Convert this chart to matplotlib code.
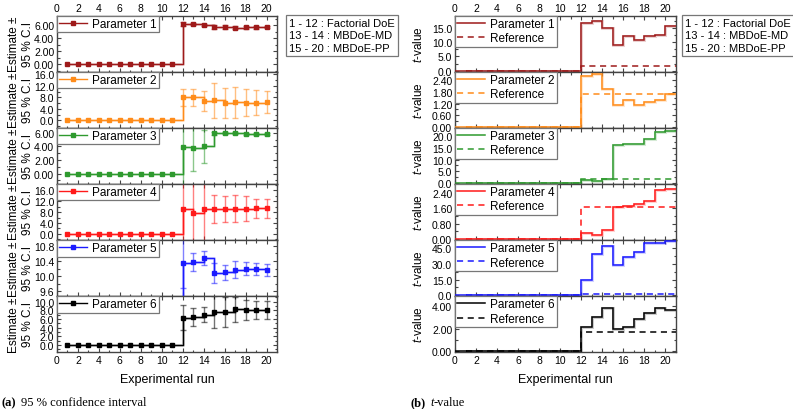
import numpy as np
import matplotlib
matplotlib.use('Agg')
import matplotlib.pyplot as plt
from matplotlib.ticker import MultipleLocator, FormatStrFormatter, AutoMinorLocator
from matplotlib.lines import Line2D

plt.rcParams['font.family'] = ['Liberation Sans', 'DejaVu Sans']
plt.rcParams['mathtext.fontset'] = 'custom'
plt.rcParams['mathtext.it'] = 'Liberation Sans:italic'
plt.rcParams['mathtext.rm'] = 'Liberation Sans'

# ---------------- data ----------------
runs = [1, 2, 3, 4, 5, 6, 7, 8, 9, 10, 11, 12, 13, 14, 15, 16, 17, 18, 19, 20]
param_names = ["Parameter 1", "Parameter 2", "Parameter 3",
               "Parameter 4", "Parameter 5", "Parameter 6"]
colors = ["#9E1A1A", "#FF8C1A", "#2E9A2E", "#FF1A1A", "#1A1AFF", "#000000"]

# estimates (left panel)
est_p1 = [0, 0, 0, 0, 0, 0, 0, 0, 0, 0, 0, 6.2, 6.2, 6.05, 5.8, 5.75, 5.65, 5.7, 5.7, 5.75]
est_p2 = [0, 0, 0, 0, 0, 0, 0, 0, 0, 0, 0, 8.0, 8.1, 6.9, 7.1, 6.2, 6.3, 6.2, 6.2, 6.5]
est_p3 = [0, 0, 0, 0, 0, 0, 0, 0, 0, 0, 0, 3.9, 3.8, 4.0, 5.9, 5.9, 5.9, 5.85, 5.85, 5.85]
est_p4 = [0, 0, 0, 0, 0, 0, 0, 0, 0, 0, 0, 9.0, 7.6, 9.2, 9.1, 9.1, 9.3, 9.3, 9.4, 9.4]
est_p5 = [0, 0, 0, 0, 0, 0, 0, 0, 0, 0, 0, 10.35, 10.37, 10.48, 10.08, 10.1, 10.17, 10.2, 10.2, 10.17]
est_p6 = [0, 0, 0, 0, 0, 0, 0, 0, 0, 0, 0, 6.3, 6.5, 7.0, 7.6, 7.6, 8.2, 8.1, 8.0, 8.0]

# 95 % confidence half-widths
ci_p1 = [0, 0, 0, 0, 0, 0, 0, 0, 0, 0, 0, 0.25, 0.2, 0.2, 0.3, 0.25, 0.25, 0.25, 0.25, 0.2]
ci_p2 = [0, 0, 0, 0, 0, 0, 0, 0, 0, 0, 0, 3.0, 2.9, 3.5, 6.1, 5.2, 5.5, 4.7, 4.4, 3.8]
ci_p3 = [0, 0, 0, 0, 0, 0, 0, 0, 0, 0, 0, 6.0, 3.4, 2.4, 0.2, 0.15, 0.15, 0.15, 0.15, 0.15]
ci_p4 = [0, 0, 0, 0, 0, 0, 0, 0, 0, 0, 0, 20.0, 20.0, 20.0, 5.3, 4.9, 4.8, 4.5, 3.5, 3.4]
ci_p5 = [0, 0, 0, 0, 0, 0, 0, 0, 0, 0, 0, 0.65, 0.23, 0.18, 0.27, 0.2, 0.22, 0.17, 0.16, 0.16]
ci_p6 = [0, 0, 0, 0, 0, 0, 0, 0, 0, 0, 0, 2.85, 2.1, 1.8, 3.75, 3.45, 2.85, 2.3, 2.1, 2.1]

# t-values (right panel)
t_p1 = [0, 0, 0, 0, 0, 0, 0, 0, 0, 0, 0, 16.7, 17.3, 15.0, 9.0, 12.1, 10.7, 12.1, 12.7, 15.8]
t_p2 = [0, 0, 0, 0, 0, 0, 0, 0, 0, 0, 0, 2.6, 2.72, 1.94, 1.12, 1.39, 1.12, 1.26, 1.39, 1.72]
t_p3 = [0, 0, 0, 0, 0, 0, 0, 0, 0, 0, 0, 1.4, 1.0, 1.7, 16.3, 16.6, 16.6, 18.6, 21.7, 22.1]
t_p4 = [0, 0, 0, 0, 0, 0, 0, 0, 0, 0, 0, 0.29, 0.2, 0.46, 1.66, 1.74, 1.85, 2.0, 2.56, 2.62]
t_p5 = [0, 0, 0, 0, 0, 0, 0, 0, 0, 0, 0, 15.0, 39.0, 47.0, 29.0, 37.0, 41.0, 50.0, 50.0, 52.0]
t_p6 = [0, 0, 0, 0, 0, 0, 0, 0, 0, 0, 0, 2.14, 3.05, 3.8, 1.94, 2.14, 2.83, 3.37, 3.86, 3.65]

# reference t-values
t_ref = [0, 0, 0, 0, 0, 0, 0, 0, 0, 0, 0, 1.68, 1.68, 1.68, 1.68, 1.68, 1.68, 1.68, 1.68, 1.68]

run_legend = ["1 - 12 : Factorial DoE", "13 - 14 : MBDoE-MD", "15 - 20 : MBDoE-PP"]

estimates = [est_p1, est_p2, est_p3, est_p4, est_p5, est_p6]
cis = [ci_p1, ci_p2, ci_p3, ci_p4, ci_p5, ci_p6]
tvals = [t_p1, t_p2, t_p3, t_p4, t_p5, t_p6]

# ---------------- style ----------------
left_ylims = [(-1.1, 7.5), (-2.5, 17.0), (-1.5, 6.75), (-2.2, 18.4), (9.48, 10.96), (-1.6, 11.3)]
left_ystep = [2.0, 4.0, 2.0, 4.0, 0.4, 2.0]
left_yfmt = ['%.2f', '%.1f', '%.2f', '%.1f', '%.1f', '%.1f']
right_ylims = [(-0.3, 19.4), (-0.04, 2.85), (-0.3, 23.6), (-0.04, 2.88), (-0.6, 53.0), (-0.06, 4.9)]
right_ystep = [5.0, 0.6, 5.0, 0.8, 15.0, 2.0]
right_yfmt = ['%.1f', '%.2f', '%.1f', '%.2f', '%.1f', '%.2f']

W, H = 793, 410
fig = plt.figure(figsize=(W / 100, H / 100), dpi=100)

top_px, bot_px = 16.5, 353
ph = (bot_px - top_px) / 6
spine_col = '#444444'
tick_fs = 7.5
leg_fs = 8.5


def style_axes(ax, i, ylim, ystep, yfmt):
    ax.set_xlim(0, 21)
    ax.set_ylim(*ylim)
    ax.xaxis.set_major_locator(MultipleLocator(2))
    ax.xaxis.set_minor_locator(MultipleLocator(1))
    ax.yaxis.set_major_locator(MultipleLocator(ystep))
    ax.yaxis.set_minor_locator(AutoMinorLocator(2))
    ax.yaxis.set_major_formatter(FormatStrFormatter(yfmt))
    ax.tick_params(which='both', direction='in', top=True, right=True,
                   labelsize=tick_fs, color=spine_col, pad=2)
    ax.tick_params(which='major', length=3, width=0.8)
    ax.tick_params(which='minor', length=1.8, width=0.8)
    ax.tick_params(axis='x', labelbottom=(i == 5), labeltop=(i == 0))
    for s in ax.spines.values():
        s.set_color(spine_col)
        s.set_linewidth(1.0)


left_x0, left_w = 57, 220
right_x0, right_w = 455, 221

runs_arr = np.array(runs)
edges = np.append(runs_arr, runs_arr[-1] + 1)

for i in range(6):
    y0 = H - (top_px + (i + 1) * ph)
    # ---------- left ----------
    ax = fig.add_axes([left_x0 / W, y0 / H, left_w / W, ph / H])
    est = np.array(estimates[i])
    ci = np.array(cis[i])
    c = colors[i]
    m = ci > 0
    ax.errorbar(runs_arr[m], est[m], yerr=ci[m], fmt='none', ecolor=c,
                elinewidth=1.0, capsize=2.5, capthick=1.0, alpha=0.55, zorder=2)
    ax.plot(runs_arr, est, drawstyle='steps-post', color=c, lw=2.2, alpha=0.2, zorder=2)
    ln, = ax.plot(runs_arr, est, drawstyle='steps-post', color=c, lw=1.0,
                  marker='s', markersize=2.4, zorder=3, label=param_names[i])
    style_axes(ax, i, left_ylims[i], left_ystep[i], left_yfmt[i])
    leg = ax.legend(handles=[ln], loc='upper left', borderaxespad=0, fontsize=leg_fs,
                    fancybox=False, framealpha=1, edgecolor='#777777',
                    handlelength=2.3, handletextpad=0.5, borderpad=0.2)
    leg.get_frame().set_linewidth(0.9)
    ax.set_ylabel("Estimate \u00b1\n95 % C.I", fontsize=8.5, linespacing=1.25)
    ax.yaxis.set_label_coords(-0.105, 0.5)
    if i == 5:
        ax.set_xlabel("Experimental run", fontsize=9, labelpad=6)

    # ---------- right ----------
    axr = fig.add_axes([right_x0 / W, y0 / H, right_w / W, ph / H])
    tv = np.array(tvals[i])
    tr = np.array(t_ref)
    axr.stairs(tv, edges, baseline=None, color=c, lw=2.2, alpha=0.2, zorder=2)
    axr.stairs(tv, edges, baseline=None, color=c, lw=1.1, zorder=3)
    axr.stairs(tr, edges, baseline=None, color=c, lw=1.1, ls=(0, (4, 3)), zorder=3)
    axr.plot([0, 1], [0, 0], color=c, lw=1.1, zorder=3)
    style_axes(axr, i, right_ylims[i], right_ystep[i], right_yfmt[i])
    h1 = Line2D([], [], color=c, lw=1.1)
    h2 = Line2D([], [], color=c, lw=1.1, ls=(0, (4, 3)))
    legr = axr.legend(handles=[h1, h2], labels=[param_names[i], "Reference"],
                      loc='upper left', borderaxespad=0, fontsize=leg_fs,
                      fancybox=False, framealpha=1, edgecolor='#777777',
                      handlelength=2.3, handletextpad=0.5, borderpad=0.2,
                      labelspacing=0.2)
    legr.get_frame().set_linewidth(0.9)
    axr.set_ylabel(r"$\it{t}$-value", fontsize=8.5)
    axr.yaxis.set_label_coords(-0.135, 0.5)
    if i == 5:
        axr.set_xlabel("Experimental run", fontsize=9, labelpad=6)

box = dict(boxstyle='square,pad=0.3', fc='white', ec='#777777', lw=0.9)
fig.text(289 / W, 1 - 19 / H, "\n".join(run_legend), ha='left', va='top',
         fontsize=8, linespacing=1.3, bbox=box)
fig.text(685 / W, 1 - 19 / H, "\n".join(run_legend), ha='left', va='top',
         fontsize=8, linespacing=1.3, bbox=box)

cap_y = 1 - 403 / H
fig.text(2 / W, cap_y, "(a)", ha='left', va='center', fontsize=9,
         family='Liberation Serif', weight='bold')
fig.text(21 / W, cap_y, "95 % confidence interval", ha='left', va='center',
         fontsize=9, family='Liberation Serif')
fig.text(411 / W, cap_y, "(b)", ha='left', va='center', fontsize=9,
         family='Liberation Serif', weight='bold')
fig.text(430 / W, cap_y, "t", ha='left', va='center', fontsize=9,
         family='Liberation Serif', style='italic')
fig.text(434 / W, cap_y, "-value", ha='left', va='center', fontsize=9,
         family='Liberation Serif')

fig.savefig("out.png", dpi=100)
